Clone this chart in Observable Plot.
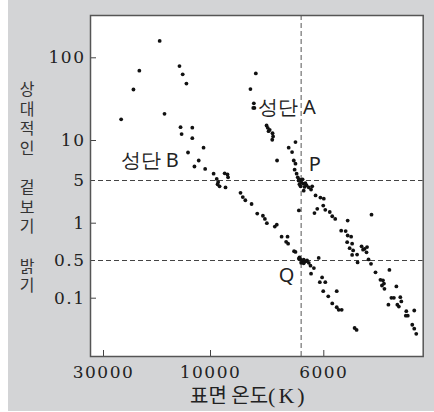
<!DOCTYPE html>
<html><head><meta charset="utf-8">
<script src="https://cdn.jsdelivr.net/npm/d3@7"></script>
<script src="https://cdn.jsdelivr.net/npm/@observablehq/plot@0.6"></script>
<style>body{margin:0;background:#fff}#chart{width:434px;height:412px}</style>
</head><body><div id="chart"></div>
<script>
// Cluster B (giants + main sequence ending near Q)
const clusterB_T = [19500,23300,24400,26700,18600,15800,15200,14500,15600,13400,15400,13400,11300,14200,12200,13000,11000,
  9890,9780,9730,9750,9680,9500,9400,9380,9470,8940,8860,8770,8550,8350,8150,8080,8010,7730,7660,7490,7280,7330,7260,7050,7000,
  6880,6820,6760,6710,6650,6590,6800,6710,6530,6470,6860,
  6180,6350,6450,6060,6140,5970,6020,5740,5910,5830,5740,5700,5640,5380,5340];
const clusterB_L = [120,86,65.5,33,39,91,82,72,24.5,24,17,12.5,9.1,8.5,7.5,6.75,6.45,
  5.85,5.2,4.85,4.65,4.45,5.9,5.75,5.4,4.35,3.85,3.45,3.15,2.8,1.9,1.7,1.4,1.0,0.955,0.98,0.82,0.82,0.75,0.725,0.625,0.615,
  0.525,0.51,0.495,0.51,0.49,0.5,0.475,0.47,0.475,0.445,0.54,
  0.535,0.42,0.36,0.32,0.27,0.27,0.175,0.175,0.12,0.092,0.086,0.082,0.082,0.054,0.051];
// Cluster A (giants + main sequence through P)
const clusterA_T = [8400,8590,8470,8450,8490,8020,7980,7910,7950,7810,7790,7820,7000,7240,7650,7120,7060,7000,
  7030,6960,6920,6850,6800,6730,6820,6650,6530,6450,6710,6890,6750,6860,6680,6610,6410,
  6290,6120,6000,6230,6330,6020,5970,5880,5830,5770,5520,5040,5650,5560,5520,5450,5530,5430,5480,5410,5430,5330,
  5240,5180,5130,5140,5210,5320,5100,5050,4960,4680,4860,4810,4790,4780,4830,4540,4640,4590,4460,4440,4520,4490,4700,
  4340,4310,4350,4180,4220,4180,4140,6880];
const clusterA_L = [83,66,50.5,45.5,45.5,26.3,23.8,21.6,20.1,17.9,14.4,10.8,9.8,9.1,7.5,8.55,7.5,7.1,
  6.35,5.85,5.4,5.1,4.85,4.7,4.45,4.75,4.35,4.15,4.05,5.0,5.15,4.65,4.4,4.55,4.45,
  3.6,3.4,3.3,2.35,1.95,2.65,2.25,2.05,1.65,1.4,1.25,1.8,0.9,0.895,0.835,0.82,0.745,0.725,0.665,0.635,0.575,0.58,
  0.69,0.655,0.68,0.61,0.645,0.48,0.515,0.465,0.375,0.4,0.295,0.29,0.255,0.2,0.235,0.225,0.104,0.104,0.111,0.095,0.09,0.087,0.09,
  0.08,0.073,0.073,0.081,0.059,0.053,0.045,2.2];

const xTicks = [30000, 10000, 6000];
const yTickLabels = [100, 10, 5, 1, 0.5, 0.1];
const yTickMarks = [100, 10, 1, 0.1];
const guideL = [5, 0.5];
const guideT = [6800];
const labelText = ["성단 A", "성단 B", "P", "Q"];
const labelT = [8330, 26820, 6530, 7590];
const labelL = [39.05, 6.69, 6.25, 0.27];

const starsB = clusterB_T.map((t, i) => ({T: t, L: clusterB_L[i]}));
const starsA = clusterA_T.map((t, i) => ({T: t, L: clusterA_L[i]}));
const labels = labelText.map((s, i) => ({text: s, T: labelT[i], L: labelL[i]}));

const plot = Plot.plot({
  width: 434, height: 412,
  marginLeft: 90, marginRight: 11.3, marginTop: 15, marginBottom: 56,
  style: {background: "transparent", overflow: "visible"},
  x: {type: "linear", domain: [32430, 30000, 10000, 6000, 4000], range: [90, 103, 210, 323.3, 422.7], label: null},
  y: {type: "linear", domain: [150, 100, 10, 5, 1, 0.5, 0.1, 0.01], range: [15, 57.3, 140, 180, 222.7, 260, 297.7, 356], label: null},
  marks: [
    Plot.frame({fill: "white"}),
    Plot.ruleY(guideL, {stroke: "#444", strokeWidth: 1, strokeDasharray: "5,3"}),
    Plot.ruleX(guideT, {stroke: "#555", strokeWidth: 1, strokeDasharray: "5,3"}),
    Plot.axisX({ticks: xTicks, tickSize: -6, text: null, stroke: "#444", label: null}),
    Plot.axisX({ticks: xTicks, tickSize: 0, tickPadding: 9, tickFormat: d => String(d), fontFamily: "DejaVu Serif", fontSize: 17, fill: "#222", label: null}),
    Plot.axisY({ticks: yTickMarks, tickSize: -6, text: null, stroke: "#444", label: null}),
    Plot.axisY({ticks: yTickLabels, tickSize: 0, tickPadding: 5, tickFormat: d => String(d), fontFamily: "DejaVu Serif", fontSize: 17, fill: "#222", label: null}),
    Plot.dot(starsB, {x: "T", y: "L", r: 1.9, fill: "#111", stroke: null}),
    Plot.dot(starsA, {x: "T", y: "L", r: 1.9, fill: "#111", stroke: null}),
    Plot.text(labels, {x: "T", y: "L", text: "text", textAnchor: "start", lineAnchor: "bottom", fill: "#222", fontSize: 20, ariaLabel: "cluster labels"}),
    Plot.frame({stroke: "#555", strokeWidth: 1.5})
  ]
});

const svg = d3.select(plot);
svg.selectAll("text").filter(function(){ return /^[0-9.]+$/.test(this.textContent); }).style("letter-spacing", "1.5px");

svg.insert("rect", ":first-child")
  .attr("x", 8).attr("y", 0).attr("width", 426).attr("height", 411).attr("fill", "#d3d4d6");

function mixed(el, hSize, lSize, lSpacing) {
  const s = el.textContent;
  const parts = s.match(/[\uAC00-\uD7A3 ]+|[^\uAC00-\uD7A3 ]+/g) || [s];
  el.textContent = "";
  for (const p of parts) {
    const isH = /[\uAC00-\uD7A3]/.test(p);
    const t = document.createElementNS("http://www.w3.org/2000/svg", "tspan");
    t.textContent = p;
    t.setAttribute("font-family", isH ? "Noto Sans CJK KR" : "Liberation Serif");
    t.setAttribute("font-size", isH ? hSize : lSize);
    if (!isH && lSpacing) t.setAttribute("letter-spacing", lSpacing);
    el.appendChild(t);
  }
}
svg.selectAll("g[aria-label='cluster labels'] text").each(function(){ mixed(this, 20, 25, 0); });

const xt = svg.append("text")
  .attr("x", 190).attr("y", 403).attr("fill", "#222")
  .attr("text-anchor", "start")
  .text("표면 온도(K)");
mixed(xt.node(), 20, 22, "3px");

svg.append("text")
  .attr("x", 27).attr("y", 189)
  .attr("fill", "#333")
  .attr("text-anchor", "middle")
  .attr("font-family", "Noto Sans CJK KR")
  .attr("font-size", 16)
  .style("writing-mode", "vertical-rl")
  .style("text-orientation", "upright")
  .style("letter-spacing", "3.6px")
  .text("상대적인 겉보기 밝기");

document.getElementById("chart").appendChild(plot);
</script>
</body></html>
